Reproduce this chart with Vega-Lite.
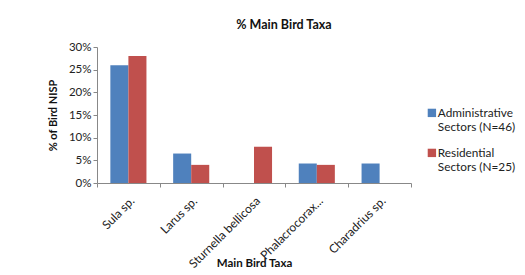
{
  "$schema": "https://vega.github.io/schema/vega-lite/v6.json",
  "width": 314,
  "height": 136,
  "autosize": {"type": "none"},
  "padding": {"left": 97, "top": 47, "right": 114, "bottom": 92},
  "background": "white",
  "config": {
    "font": "Lato",
    "view": {"stroke": null},
    "axis": {"labelFont": "Lato", "titleFont": "Lato", "labelColor": "#222", "titleColor": "#111", "domainColor": "#888", "tickColor": "#888"}
  },
  "title": {"text": "% Main Bird Taxa", "fontSize": 12.5, "fontWeight": "bold", "font": "Lato", "color": "#111", "dx": 30, "offset": 10, "anchor": "middle"},
  "data": {
    "values": [
      {"taxon": "Sula sp.", "sector": "Administrative Sectors (N=46)", "pct": 0.26},
      {"taxon": "Sula sp.", "sector": "Residential Sectors (N=25)", "pct": 0.28},
      {"taxon": "Larus sp.", "sector": "Administrative Sectors (N=46)", "pct": 0.065},
      {"taxon": "Larus sp.", "sector": "Residential Sectors (N=25)", "pct": 0.04},
      {"taxon": "Sturnella bellicosa", "sector": "Administrative Sectors (N=46)", "pct": 0},
      {"taxon": "Sturnella bellicosa", "sector": "Residential Sectors (N=25)", "pct": 0.08},
      {"taxon": "Phalacrocorax...", "sector": "Administrative Sectors (N=46)", "pct": 0.043},
      {"taxon": "Phalacrocorax...", "sector": "Residential Sectors (N=25)", "pct": 0.04},
      {"taxon": "Charadrius sp.", "sector": "Administrative Sectors (N=46)", "pct": 0.043},
      {"taxon": "Charadrius sp.", "sector": "Residential Sectors (N=25)", "pct": 0}
    ]
  },
  "mark": {"type": "bar"},
  "encoding": {
    "x": {
      "field": "taxon", "type": "nominal", "sort": null,
      "scale": {"paddingInner": 0, "paddingOuter": 0},
      "axis": {"title": "Main Bird Taxa", "titleFontSize": 11.5, "titleFontWeight": "bold", "labelAngle": -45, "labelFontSize": 12, "ticks": true, "tickBand": "extent", "tickSize": 4, "labelPadding": 8, "titlePadding": -12}
    },
    "xOffset": {"field": "sector", "type": "nominal", "scale": {"paddingInner": 0, "paddingOuter": 0.74}},
    "y": {
      "field": "pct", "type": "quantitative",
      "scale": {"domain": [0, 0.3]},
      "axis": {"title": "% of Bird NISP", "titleFontSize": 11, "titleFontWeight": "bold", "format": ".0%", "values": [0, 0.05, 0.1, 0.15, 0.2, 0.25, 0.3], "grid": false, "labelFontSize": 11.5, "tickSize": 4, "titlePadding": 10}
    },
    "color": {
      "field": "sector", "type": "nominal",
      "scale": {"range": ["#4F81BD", "#C0504D"]},
      "legend": {
        "title": null, "orient": "none", "legendX": 329, "legendY": 60,
        "symbolType": "square", "symbolSize": 70, "symbolStrokeWidth": 0,
        "labelFontSize": 11.8, "labelFont": "Lato", "labelColor": "#222",
        "labelExpr": "datum.label == 'Administrative Sectors (N=46)' ? ['Administrative', 'Sectors (N=46)'] : ['Residential', 'Sectors (N=25)']",
        "rowPadding": 13, "labelOffset": 0, "labelBaseline": "middle"
      }
    }
  }
}
